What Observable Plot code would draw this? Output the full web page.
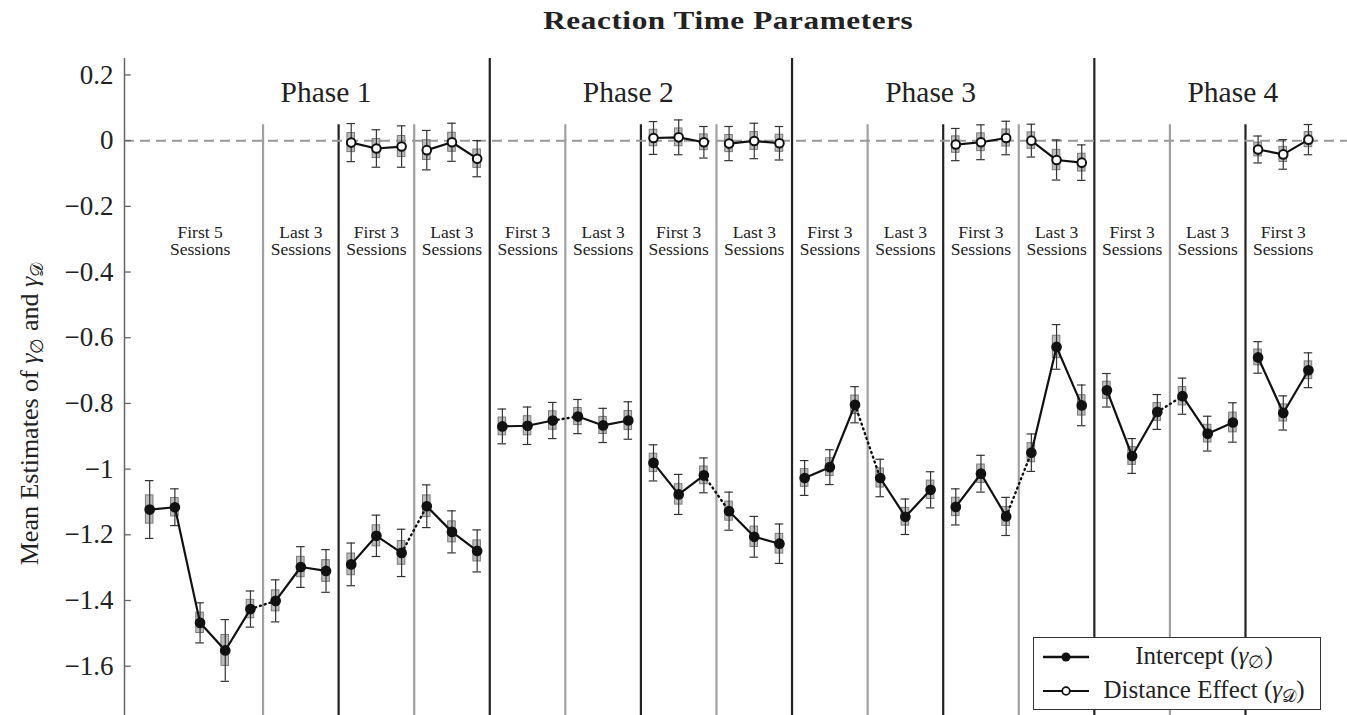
<!DOCTYPE html>
<html><head><meta charset="utf-8">
<script src="https://cdn.jsdelivr.net/npm/d3@7"></script>
<script src="https://cdn.jsdelivr.net/npm/@observablehq/plot@0.6"></script>
<style>
body{margin:0;background:#fff;font-family:"Liberation Serif",serif;color:#222;}
#wrap{position:relative;width:1347px;height:715px;overflow:hidden;background:#fff;}
#title{position:absolute;left:110px;right:0;top:6px;text-align:center;}
#title span{display:inline-block;font-weight:bold;font-size:26px;letter-spacing:0.5px;transform:scaleX(1.2);transform-origin:center;}
#chart{position:absolute;left:0;top:48px;}
#ylabel{position:absolute;left:30px;top:414px;transform:translate(-50%,-50%) rotate(-90deg);white-space:nowrap;font-size:26px;}
#legend{position:absolute;left:1033px;top:637px;width:288px;height:73px;border:1.3px solid #333;background:#fff;box-sizing:border-box;}
.row{position:absolute;left:0;width:100%;height:32px;}
.row svg{position:absolute;left:7px;top:9px;}
.row span{position:absolute;left:170px;top:1px;transform:translateX(-50%);white-space:nowrap;font-size:25px;}
sub{font-size:0.7em;vertical-align:-0.25em;line-height:0;}
</style></head>
<body>
<div id="wrap">
  <div id="title"><span>Reaction Time Parameters</span></div>
  <div id="chart"></div>
  <div id="ylabel">Mean Estimates of <i>γ</i><sub>∅</sub> and <i>γ</i><sub>𝒟</sub></div>
  <div id="legend">
    <div class="row" style="top:3px"><svg width="50" height="14"><line x1="2" y1="7" x2="48" y2="7" stroke="#111" stroke-width="2.4"/><circle cx="25" cy="7" r="4.5" fill="#111"/></svg><span>Intercept (<i>γ</i><sub>∅</sub>)</span></div>
    <div class="row" style="top:37px"><svg width="50" height="14"><line x1="2" y1="7" x2="48" y2="7" stroke="#111" stroke-width="2.2"/><circle cx="25" cy="7" r="3.8" fill="#fff" stroke="#111" stroke-width="1.8"/></svg><span>Distance Effect (<i>γ</i><sub>𝒟</sub>)</span></div>
  </div>
</div>
<script>
// ---- data ----
const intercept = [-1.123,-1.116,-1.468,-1.552,-1.426,-1.401,-1.298,-1.310,-1.290,-1.203,-1.255,-1.113,-1.191,-1.249,
  -0.870,-0.868,-0.852,-0.840,-0.867,-0.852,-0.981,-1.077,-1.019,-1.128,-1.206,-1.227,
  -1.027,-0.994,-0.804,-1.027,-1.145,-1.063,-1.115,-1.014,-1.144,-0.950,-0.628,-0.806,
  -0.760,-0.960,-0.826,-0.778,-0.892,-0.858,-0.660,-0.829,-0.699];
const interceptCI = [0.088,0.056,0.061,0.094,0.055,0.064,0.062,0.065,0.065,0.063,0.072,0.065,0.064,0.064,
  0.053,0.057,0.055,0.052,0.052,0.057,0.055,0.061,0.053,0.058,0.062,0.060,
  0.053,0.053,0.055,0.057,0.054,0.055,0.055,0.056,0.058,0.057,0.068,0.062,
  0.051,0.053,0.053,0.055,0.053,0.060,0.048,0.052,0.053];
const interceptSE = [0.043,0.028,0.031,0.047,0.028,0.032,0.031,0.033,0.033,0.032,0.036,0.033,0.032,0.032,
  0.027,0.029,0.028,0.026,0.026,0.029,0.028,0.031,0.027,0.029,0.031,0.030,
  0.027,0.027,0.028,0.029,0.027,0.028,0.028,0.028,0.029,0.029,0.034,0.031,
  0.026,0.027,0.027,0.028,0.027,0.030,0.024,0.026,0.027];
const distanceSessions = [8,9,10,11,12,13,20,21,22,23,24,25,32,33,34,35,36,37,44,45,46];
const distance = [-0.006,-0.024,-0.018,-0.029,-0.005,-0.055, 0.008,0.010,-0.005,-0.009,-0.001,-0.008,
  -0.012,-0.005,0.008,0.000,-0.059,-0.067, -0.027,-0.042,0.003];
const distanceCI = [0.058,0.057,0.063,0.060,0.058,0.055, 0.050,0.053,0.048,0.052,0.054,0.051,
  0.049,0.053,0.051,0.050,0.061,0.054, 0.041,0.045,0.046];
const distanceSE = [0.029,0.029,0.032,0.030,0.029,0.028, 0.025,0.027,0.024,0.026,0.027,0.026,
  0.025,0.027,0.026,0.025,0.031,0.027, 0.021,0.023,0.023];
const blockStart = [0,5,8,11,14,17,20,23,26,29,32,35,38,41,44];
const blockEnd   = [4,7,10,13,16,19,22,25,28,31,34,37,40,43,46];
const blockLabels = ["First 5\nSessions","Last 3\nSessions","First 3\nSessions","Last 3\nSessions",
  "First 3\nSessions","Last 3\nSessions","First 3\nSessions","Last 3\nSessions",
  "First 3\nSessions","Last 3\nSessions","First 3\nSessions","Last 3\nSessions",
  "First 3\nSessions","Last 3\nSessions","First 3\nSessions"];
const dividerType = ["minor","half","minor","phase","minor","half","minor","phase","minor","half","minor","phase","minor","half"];
const phaseLabels = ["Phase 1","Phase 2","Phase 3","Phase 4"];
const phaseLabelSession = [7,19,31,43];
const yTicks = [0.2,0,-0.2,-0.4,-0.6,-0.8,-1,-1.2,-1.4,-1.6];

// ---- derived tables ----
const xMin = -1, xMax = 47.55, yMin = -1.75, yMax = 0.25;
const blockOf = s => blockStart.findIndex((b,i) => s >= b && s <= blockEnd[i]);
const ints = intercept.map((v,i) => ({s:i, v, ci:interceptCI[i], se:interceptSE[i], block:blockOf(i)}));
const dists = distance.map((v,i) => ({s:distanceSessions[i], v, ci:distanceCI[i], se:distanceSE[i], block:blockOf(distanceSessions[i])}));
const blocks = blockStart.map((b,i) => ({center:(b+blockEnd[i])/2, label:blockLabels[i]}));
const dividers = dividerType.map((t,i) => ({x:blockEnd[i]+0.5, type:t}));
const phases = phaseLabels.map((l,i) => ({s:phaseLabelSession[i], label:l}));
// dotted connectors (intercept only) across grey dividers
const dotted = [];
dividerType.forEach((t,i) => {
  if (t !== "minor") return;
  [blockEnd[i], blockStart[i+1]].forEach(s => dotted.push({s, v:intercept[s], pair:i}));
});

const fmt = d => d === 0 ? "0" : (d < 0 ? "\u2212" : "") + String(+Math.abs(d).toFixed(1));
const boxW = 0.15, capW = 0.17;

function errMarks(data){
  return [
    Plot.rect(data, {x1:d=>d.s-boxW, x2:d=>d.s+boxW, y1:d=>d.v-d.se, y2:d=>d.v+d.se, fill:"#9a9a9a", fillOpacity:0.65, stroke:"#7a7a7a", strokeWidth:1}),
    Plot.ruleX(data, {x:"s", y1:d=>d.v-d.ci, y2:d=>d.v+d.ci, stroke:"#333", strokeWidth:1.2}),
    Plot.ruleY(data, {y:d=>d.v+d.ci, x1:d=>d.s-capW, x2:d=>d.s+capW, stroke:"#333", strokeWidth:1.2}),
    Plot.ruleY(data, {y:d=>d.v-d.ci, x1:d=>d.s-capW, x2:d=>d.s+capW, stroke:"#333", strokeWidth:1.2})
  ];
}

const plot = Plot.plot({
  width: 1347, height: 667,
  marginLeft: 124, marginRight: 0, marginTop: 10, marginBottom: 0,
  x: {domain:[xMin, xMax], axis:null},
  y: {domain:[yMin, yMax], axis:null},
  style: {fontFamily:"'Liberation Serif', serif", background:"white", overflow:"visible", color:"#222"},
  marks: [
    Plot.ruleX(dividers.filter(d=>d.type==="minor"), {x:"x", y1:0.048, y2:yMin, stroke:"#a0a0a0", strokeWidth:2.2}),
    Plot.ruleX(dividers.filter(d=>d.type==="half"), {x:"x", y1:0.048, y2:yMin, stroke:"#222", strokeWidth:2.2}),
    Plot.ruleX(dividers.filter(d=>d.type==="phase"), {x:"x", y1:yMax, y2:yMin, stroke:"#222", strokeWidth:2.2}),
    Plot.ruleY([0], {stroke:"#9a9a9a", strokeWidth:2, strokeDasharray:"10,6"}),
    Plot.ruleX([xMin], {stroke:"#666", strokeWidth:1.5}),
    Plot.ruleY(yTicks, {x1:xMin, x2:xMin+0.27, stroke:"#666", strokeWidth:1.3}),
    Plot.axisY(yTicks, {tickSize:0, tickPadding:11, tickFormat:fmt, fontSize:27, fill:"#222", label:null}),
    Plot.text(blocks, {x:"center", y:-0.305, text:"label", fontSize:17.5, lineHeight:1.0, fill:"#222"}),
    Plot.text(phases, {x:"s", y:0.146, text:"label", fontSize:29.5, fill:"#222"}),
    ...errMarks(ints),
    ...errMarks(dists),
    Plot.line(dotted, {x:"s", y:"v", z:"pair", stroke:"#111", strokeWidth:2.4, strokeDasharray:"1,4", strokeLinecap:"round"}),
    Plot.line(ints, {x:"s", y:"v", z:"block", stroke:"#111", strokeWidth:2.2}),
    Plot.line(dists, {x:"s", y:"v", z:"block", stroke:"#111", strokeWidth:2.2}),
    Plot.dot(ints, {x:"s", y:"v", r:4.6, fill:"#111", stroke:"#111"}),
    Plot.dot(dists, {x:"s", y:"v", r:4.3, fill:"#fff", stroke:"#111", strokeWidth:2})
  ]
});
document.getElementById("chart").appendChild(plot);
</script>
</body></html>
